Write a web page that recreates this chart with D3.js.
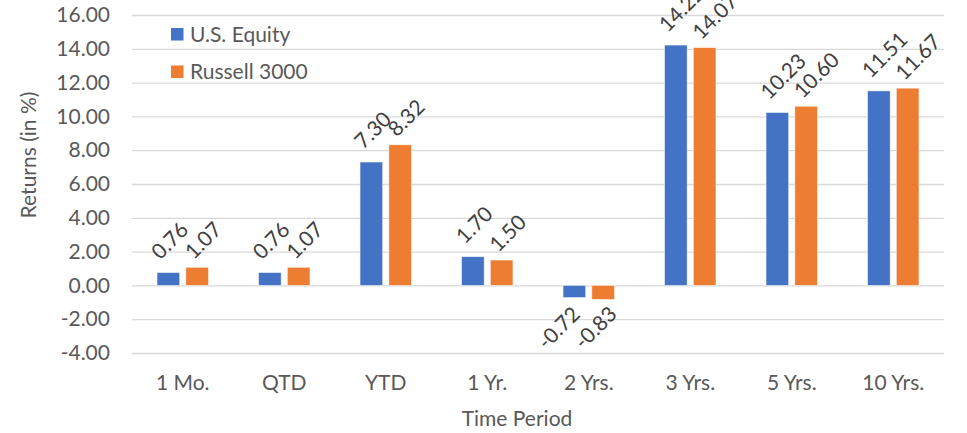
<!DOCTYPE html>
<html>
<head>
<meta charset="utf-8">
<script src="https://cdn.jsdelivr.net/npm/d3@7/dist/d3.min.js"></script>
<style>
  html, body { margin: 0; padding: 0; background: #ffffff; }
  svg { display: block; }
  svg text { font-family: "Lato", "Open Sans", sans-serif; }
</style>
</head>
<body>
<svg id="chart" width="967" height="433"></svg>
<script>
// Returns by time period
const categories = ["1 Mo.", "QTD", "YTD", "1 Yr.", "2 Yrs.", "3 Yrs.", "5 Yrs.", "10 Yrs."];
const seriesNames = ["U.S. Equity", "Russell 3000"];
const usEquity    = [0.76, 0.76, 7.30, 1.70, -0.72, 14.22, 10.23, 11.51];
const russell3000 = [1.07, 1.07, 8.32, 1.50, -0.83, 14.07, 10.60, 11.67];
const yTicks = [-4, -2, 0, 2, 4, 6, 8, 10, 12, 14, 16];
const seriesColors = ["#4472C4", "#ED7D31"];

const seriesValues = [usEquity, russell3000];
const rows = categories.map((c, i) => ({
  category: c,
  values: seriesNames.map((s, j) => ({ series: s, idx: j, value: seriesValues[j][i], color: seriesColors[j] }))
}));

// two decimals, plain hyphen for negatives
const fmt = v => d3.format(".2f")(v).replace("\u2212", "-");

const svg = d3.select("#chart");
const plot = { left: 132, right: 944, top: 15, bottom: 353 };
const axisFont = "21px";
const labelFont = "21px";

// label anchor offsets per series: [dx, dy] above positive bars, below negative bars
const labelOffsetPos = [[-8, -12], [-3.5, -7]];
const labelOffsetNeg = [[7, 18], [15, 16]];

const x0 = d3.scaleBand().domain(categories).range([plot.left, plot.right]).paddingInner(0).paddingOuter(0);
const groupW = 51.4;
const x1 = d3.scaleBand().domain(seriesNames)
  .range([(x0.bandwidth() - groupW) / 2, (x0.bandwidth() + groupW) / 2])
  .paddingInner(0.215).paddingOuter(0);
const y = d3.scaleLinear().domain([-4, 16]).range([plot.bottom, plot.top]);

// Horizontal gridlines and value axis labels
const yAxis = d3.axisLeft(y).tickValues(yTicks).tickFormat(fmt)
  .tickSize(-(plot.right - plot.left)).tickPadding(22);
const gy = svg.append("g").attr("transform", `translate(${plot.left},0)`).call(yAxis)
  .attr("font-family", null).attr("font-size", null);
gy.select(".domain").remove();
gy.selectAll(".tick line").attr("stroke", "#D9D9D9").attr("stroke-width", 1.3);
gy.selectAll(".tick text").attr("fill", "#595959").style("font-size", axisFont);

// Category axis labels
const xAxis = d3.axisBottom(x0).tickSize(0).tickPadding(0);
const gx = svg.append("g").attr("transform", `translate(0,${plot.bottom})`).call(xAxis)
  .attr("font-family", null).attr("font-size", null);
gx.select(".domain").remove();
gx.selectAll(".tick text").attr("fill", "#595959").style("font-size", axisFont)
  .attr("dy", null).attr("y", 37);

// Bars
const groups = svg.append("g").selectAll("g").data(rows).join("g")
  .attr("transform", d => `translate(${x0(d.category)},0)`);

groups.selectAll("rect").data(d => d.values).join("rect")
  .attr("x", d => x1(d.series))
  .attr("width", x1.bandwidth())
  .attr("y", d => y(Math.max(0, d.value)))
  .attr("height", d => Math.abs(y(d.value) - y(0)))
  .attr("fill", d => d.color)
  .attr("stroke", "#ffffff")
  .attr("stroke-opacity", 0.6)
  .attr("stroke-width", 0.8);

// Rotated value labels
groups.selectAll("text.val").data(d => d.values).join("text")
  .attr("class", "val")
  .attr("transform", d => {
    const cx = x1(d.series) + x1.bandwidth() / 2;
    const [dx, dy] = d.value >= 0 ? labelOffsetPos[d.idx] : labelOffsetNeg[d.idx];
    return `translate(${cx + dx},${y(d.value) + dy})rotate(-45)`;
  })
  .attr("text-anchor", d => d.value >= 0 ? "start" : "end")
  .attr("fill", "#404040")
  .style("font-size", labelFont)
  .text(d => fmt(d.value));

// Axis titles
svg.append("text")
  .attr("transform", "translate(36,155)rotate(-90)")
  .attr("text-anchor", "middle")
  .attr("fill", "#595959").style("font-size", axisFont)
  .text("Returns (in %)");

svg.append("text")
  .attr("x", 517).attr("y", 426)
  .attr("text-anchor", "middle")
  .attr("fill", "#595959").style("font-size", axisFont)
  .text("Time Period");

// Legend
const legend = svg.append("g").selectAll("g").data(seriesNames).join("g")
  .attr("transform", (d, i) => `translate(171,${28 + i * 37.5})`);
legend.append("rect").attr("width", 12.5).attr("height", 12.5)
  .attr("fill", (d, i) => seriesColors[i]);
legend.append("text").attr("x", 19).attr("y", 6.5).attr("dy", "0.35em")
  .attr("fill", "#595959").style("font-size", axisFont)
  .text(d => d);
</script>
</body>
</html>
